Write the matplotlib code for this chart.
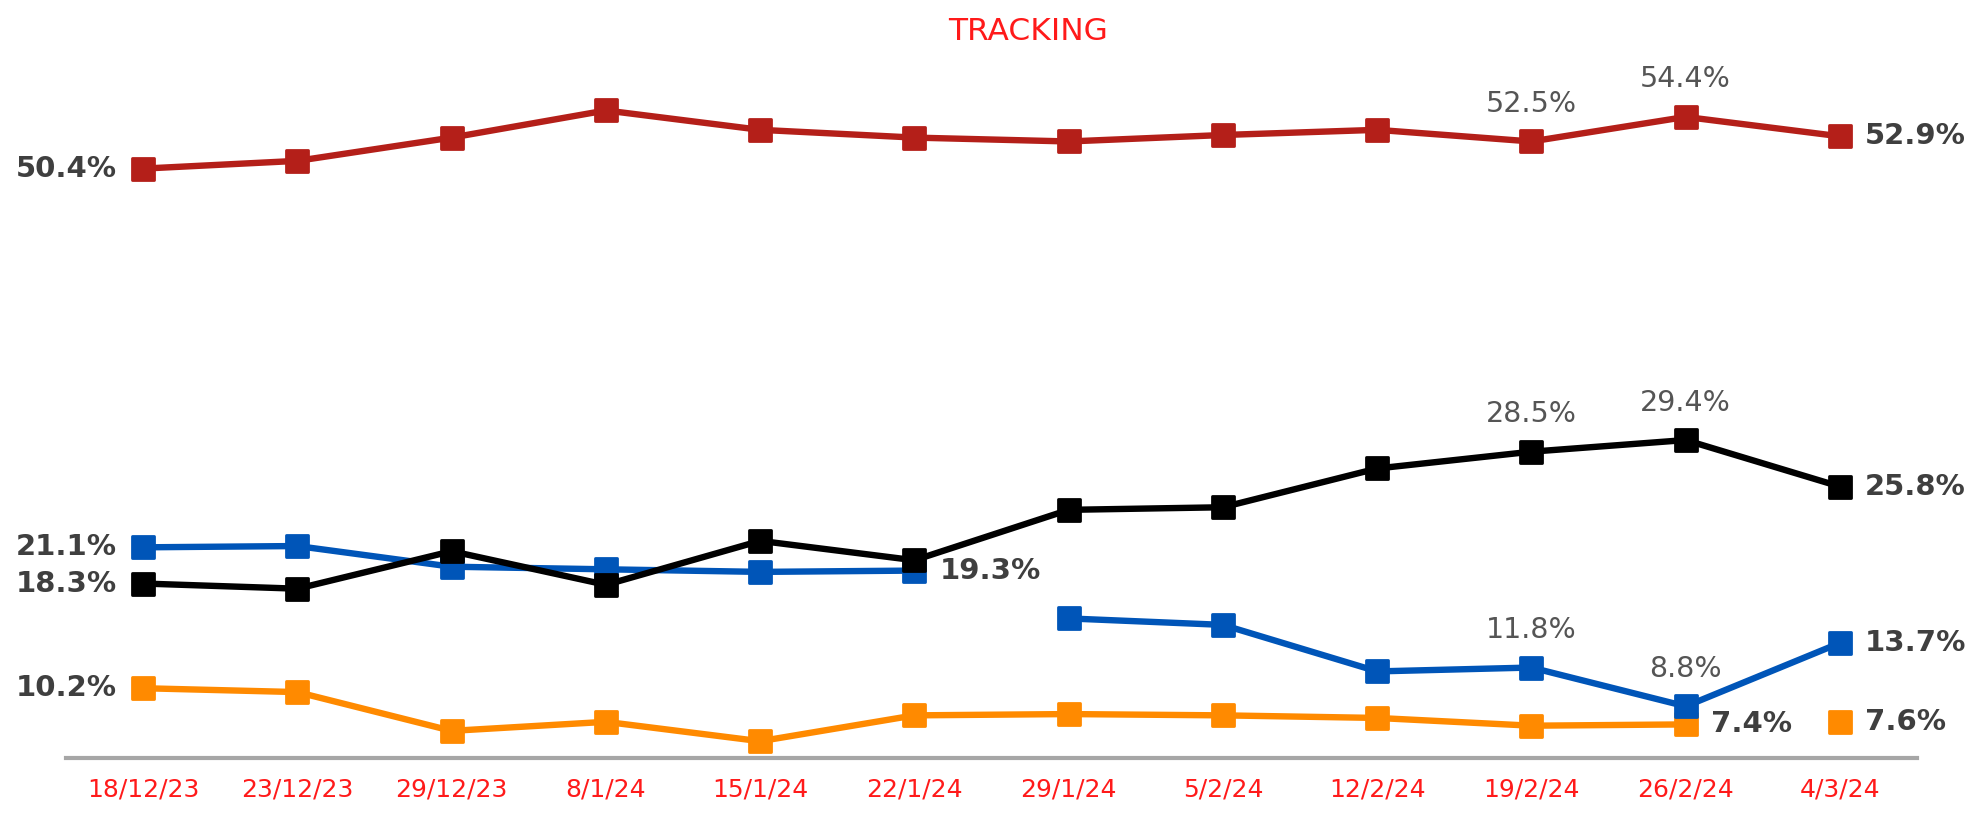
import numpy as np
import matplotlib.pyplot as plt
from matplotlib.markers import MarkerStyle

dates = ["18/12/23", "23/12/23", "29/12/23", "8/1/24", "15/1/24", "22/1/24",
         "29/1/24", "5/2/24", "12/2/24", "19/2/24", "26/2/24", "4/3/24"]
red = [50.4, 51.0, 52.8, 54.9, 53.4, 52.8, 52.5, 53.0, 53.4, 52.5, 54.4, 52.9]
black = [18.3, 17.9, 20.8, 18.2, 21.6, 20.1, 24.0, 24.2, 27.2, 28.5, 29.4, 25.8]
blue_a = [21.1, 21.2, 19.6, 19.4, 19.2, 19.3]
blue_b = [15.6, 15.1, 11.5, 11.8, 8.8, 13.7]
orange_a = [10.2, 9.9, 6.9, 7.6, 6.1, 8.1, 8.2, 8.1, 7.9, 7.3, 7.4]
orange_b = [7.6]

RED = '#B41F19'
BLACK = '#000000'
BLUE = '#0055B8'
ORANGE = '#FF8A00'
DARK = '#3F3F3F'
GREY = '#555555'

plt.rcParams['font.family'] = ['DejaVu Sans']

x = np.arange(len(dates))
fig = plt.figure(figsize=(19.88, 8.17), dpi=100)
ax = fig.add_axes([0.0332, 0.0722, 0.9311, 0.8733])

sq = MarkerStyle('s', joinstyle='round')
kw = dict(lw=4.6, marker=sq, ms=16, mew=2)

ax.plot(x[:11], orange_a, color=ORANGE, mec=ORANGE, zorder=2, **kw)
ax.plot(x[11:], orange_b, color=ORANGE, mec=ORANGE, zorder=2, ls='none', marker=sq, ms=16, mew=2)
ax.plot(x, red, color=RED, mec=RED, zorder=3, **kw)
ax.plot(x[:6], blue_a, color=BLUE, mec=BLUE, zorder=4, **kw)
ax.plot(x[6:], blue_b, color=BLUE, mec=BLUE, zorder=4, **kw)
ax.plot(x, black, color=BLACK, mec=BLACK, zorder=5, **kw)

def bold_label(i, v, side):
	if side == 'left':
		ax.annotate(f"{v}%", (x[i], v), xytext=(-19, 0), textcoords='offset points',
			ha='right', va='center', fontsize=21, fontweight='bold', color=DARK)
	else:
		ax.annotate(f"{v}%", (x[i], v), xytext=(18, 0), textcoords='offset points',
			ha='left', va='center', fontsize=21, fontweight='bold', color=DARK)

def light_label(i, v):
	ax.annotate(f"{v}%", (x[i], v), xytext=(0, 27), textcoords='offset points',
		ha='center', va='center', fontsize=20.5, color=GREY)

bold_label(0, red[0], 'left')
bold_label(0, blue_a[0], 'left')
bold_label(0, black[0], 'left')
bold_label(0, orange_a[0], 'left')
bold_label(11, red[11], 'right')
bold_label(11, black[11], 'right')
bold_label(11, blue_b[5], 'right')
bold_label(11, orange_b[0], 'right')
bold_label(5, blue_a[5], 'right')
bold_label(10, orange_a[10], 'right')

light_label(9, red[9])
light_label(10, red[10])
light_label(9, black[9])
light_label(10, black[10])
light_label(9, blue_b[3])
light_label(10, blue_b[4])

ax.set_xlim(-0.5, 11.5)
ax.set_ylim(4.8, 60)
ax.set_xticks(x)
ax.set_xticklabels(dates, fontsize=18, color='#FF1A1A')
ax.set_yticks([])
ax.tick_params(axis='x', length=0, pad=14)
for s in ['top', 'right', 'left']:
	ax.spines[s].set_visible(False)
ax.spines['bottom'].set_color('#A6A6A6')
ax.spines['bottom'].set_linewidth(3)

fig.text(0.517, 0.961, "TRACKING", ha='center', va='center', fontsize=22.5, color='#FF1A1A')

plt.savefig("out.png", dpi=100)
plt.close()
